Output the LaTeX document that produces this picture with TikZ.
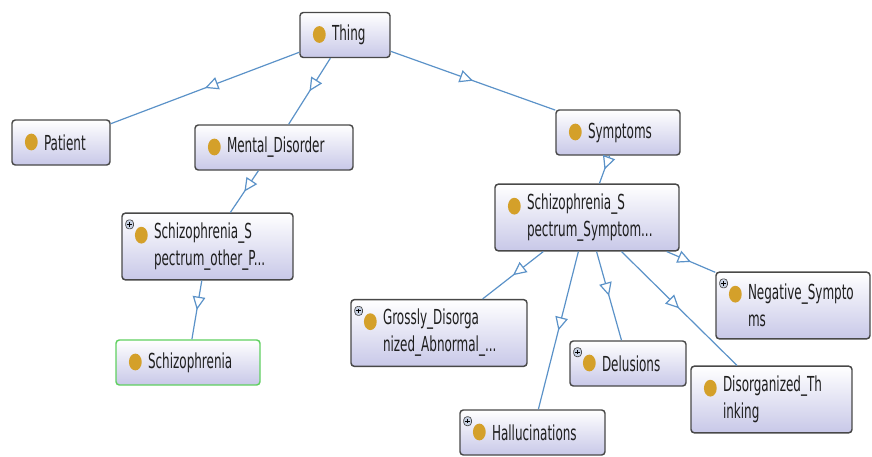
\documentclass[tikz,border=0pt]{standalone}
\usepackage{fontspec}
\usetikzlibrary{arrows.meta,decorations.markings}
\newfontfamily\ontofont[FakeStretch=0.58]{DejaVu Sans}
\definecolor{isablue}{RGB}{91,146,200}
\definecolor{clsborder}{RGB}{72,72,72}
\definecolor{clsfill}{RGB}{200,200,232}
\definecolor{clsdot}{RGB}{212,160,42}
\definecolor{plusfill}{RGB}{200,210,228}
\definecolor{selgreen}{RGB}{96,208,96}
\newcommand{\clsdotmark}{\fill[clsdot] ([xshift=14.5pt,yshift=-16.5pt]path picture bounding box.north west) ellipse (4.8pt and 6.3pt);}
\newcommand{\clsplusmark}{%
  \draw[clsborder, fill=plusfill, line width=0.5pt] ([xshift=2.8pt,yshift=-5pt]path picture bounding box.north west) rectangle ++(5.8pt,-6.8pt);
  \draw[black, line width=0.7pt] ([xshift=4pt,yshift=-8.4pt]path picture bounding box.north west) -- ++(3.4pt,0pt);
  \draw[black, line width=0.7pt] ([xshift=5.7pt,yshift=-6.7pt]path picture bounding box.north west) -- ++(0pt,-3.4pt);}
\tikzset{
  cls/.style={draw=clsborder, line width=1.1pt, rounded corners=2.5pt, top color=white, bottom color=clsfill,
    minimum height=33.75pt, inner xsep=24pt, align=left, text=black!88,
    font=\ontofont\fontsize{15.5}{20.25}\selectfont, execute at begin node={\hyphenpenalty=10000 },
    path picture={\clsdotmark}},
  clsplus/.style={cls, path picture={\clsdotmark\clsplusmark}},
  twoline/.style={minimum height=50pt},
  selected/.style={draw=selgreen},
  isa/.style={draw=isablue, line width=0.9pt, postaction={decorate},
    decoration={markings, mark=at position 0.5 with {\arrow[isablue]{Triangle[fill=white, length=10pt, width=9.5pt]}}}}
}

\begin{document}
\begin{tikzpicture}[x=0.75pt, y=-0.75pt]
\useasboundingbox (0,0) rectangle (872,457);

\node[cls, text width=19.5pt] (thing) at (345,35) {Thing};
\node[cls, text width=25.5pt] (patient) at (61,142.5) {Patient};
\node[cls, text width=70.5pt] (mental) at (274,147.5) {Mental\_Disorder};
\node[cls, text width=45pt] (symptoms) at (618,132.5) {Symptoms};
\node[clsplus, twoline, text width=80.25pt] (spectrumother) at (207.5,246.5) {Schizophrenia\_S\\pectrum\_other\_P...};
\node[cls, selected, text width=60pt] (schizo) at (188,362.5) {Schizophrenia};
\node[cls, twoline, text width=90pt] (spectrumsym) at (587,217.5) {Schizophrenia\_S\\pectrum\_Symptom...};
\node[clsplus, twoline, text width=84pt] (grossly) at (439,333) {Grossly\_Disorga\\nized\_Abnormal\_...};
\node[clsplus, twoline, text width=67.5pt] (negative) at (793,305.5) {Negative\_Sympto\\ms};
\node[clsplus, text width=39pt] (delusions) at (628,363.5) {Delusions};
\node[cls, twoline, text width=72.75pt] (disorg) at (771.5,399.5) {Disorganized\_Th\\inking};
\node[clsplus, text width=60.75pt] (halluc) at (532.5,432.5) {Hallucinations};

\draw[isa] (thing) -- (patient);
\draw[isa] (thing) -- (mental);
\draw[isa] (thing) -- (symptoms);
\draw[isa] (mental) -- (spectrumother);
\draw[isa] (spectrumother) -- (schizo);
\draw[isa] (symptoms) -- (spectrumsym);
\draw[isa] (spectrumsym) -- (grossly);
\draw[isa] (spectrumsym) -- (halluc);
\draw[isa] (spectrumsym) -- (delusions);
\draw[isa] (spectrumsym) -- (disorg);
\draw[isa] (spectrumsym) -- (negative);
\end{tikzpicture}
\end{document}
